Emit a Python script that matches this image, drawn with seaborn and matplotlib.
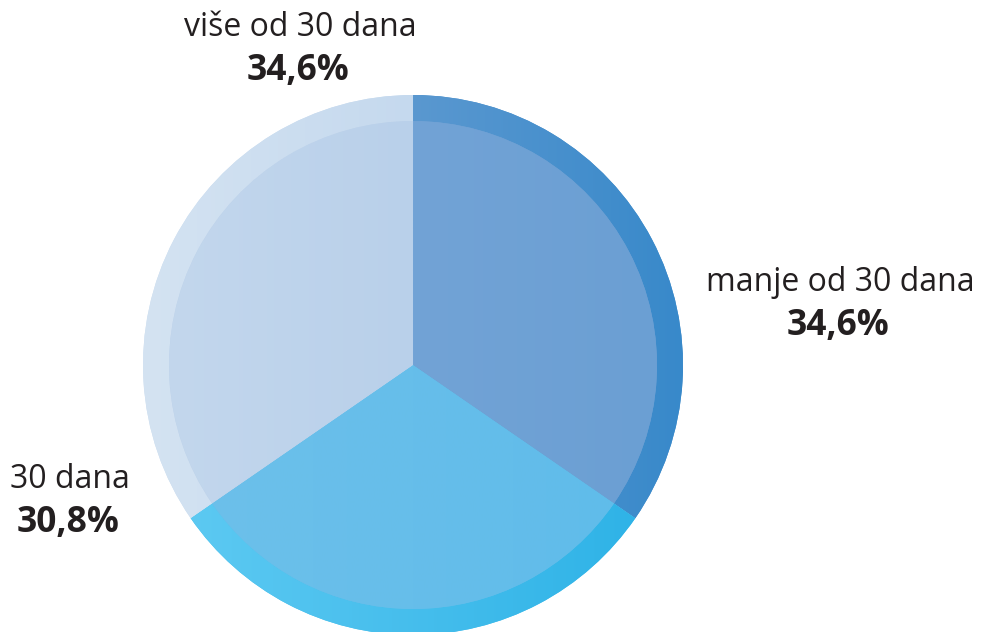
import numpy as np
import matplotlib
matplotlib.use("Agg")
import matplotlib.pyplot as plt
from matplotlib.colors import LinearSegmentedColormap
import seaborn as sns

# Data: share of answers per category (clockwise from 12 o'clock)
categories = ["manje od 30 dana", "30 dana", "više od 30 dana"]
shares = [34.6, 30.8, 34.6]
share_labels = ["34,6%", "30,8%", "34,6%"]

sns.set_theme(style="white")
plt.rcParams["font.family"] = ["Open Sans", "DejaVu Sans"]

# Horizontal gradient (left -> right) for the outer rim and the inner disc
rim_colors = [("#5a98d0", "#3889ca"), ("#5cc9f2", "#2fb3e7"), ("#d4e3f2", "#c5d9ee")]
fill_colors = [("#72a3d6", "#6b9fd3"), ("#6cc0ea", "#60bcea"), ("#c3d7ed", "#b9d0ea")]
text_color = "#231f20"

W, H = 981, 632
fig = plt.figure(figsize=(W / 100, H / 100), dpi=100)
cx, cy, R = 413, 365, 270
ax = fig.add_axes([(cx - R) / W, (H - cy - R) / H, 2 * R / W, 2 * R / H])

inner_r = 244 / 270


def x_span(wedge):
    th = np.radians(np.linspace(wedge.theta1, wedge.theta2, 400))
    xs = np.concatenate([[0.0], wedge.r * np.cos(th)])
    return xs.min(), xs.max()


def paint(wedges, palette, z):
    xs = np.linspace(-1, 1, 512)
    for w, (c0, c1) in zip(wedges, palette):
        w.set_zorder(z)
        x0, x1 = x_span(w)
        t = np.clip((xs - x0) / max(x1 - x0, 1e-6), 0, 1)
        cmap = LinearSegmentedColormap.from_list("g", [c0, c1])
        w.set_facecolor(cmap(0.5))
        im = ax.imshow(t[None, :], cmap=cmap, vmin=0, vmax=1,
                       extent=[-1, 1, -1, 1], aspect="auto",
                       interpolation="bilinear", zorder=z + 0.5)
        im.set_clip_path(w)


outer, _ = ax.pie(shares, radius=1.0, startangle=90, counterclock=False,
                  wedgeprops=dict(linewidth=0))
paint(outer, rim_colors, 1)
inner, _ = ax.pie(shares, radius=inner_r, startangle=90, counterclock=False,
                  wedgeprops=dict(linewidth=0))
paint(inner, fill_colors, 3)

ax.set_xlim(-1, 1)
ax.set_ylim(-1, 1)
ax.set_aspect("equal")
ax.axis("off")

# Category names with their shares underneath
label_pos = [(840, 283), (70, 480), (300, 28)]
for name, pct, (px, py) in zip(categories, share_labels, label_pos):
    fig.text(px / W, 1 - py / H, name, ha="center", va="center",
             fontsize=23, color=text_color)
    fig.text((px - 2) / W, 1 - (py + 43) / H, pct, ha="center", va="center",
             fontsize=25.5, fontweight="bold", color=text_color)

fig.savefig("out.png", dpi=100, facecolor="white")
